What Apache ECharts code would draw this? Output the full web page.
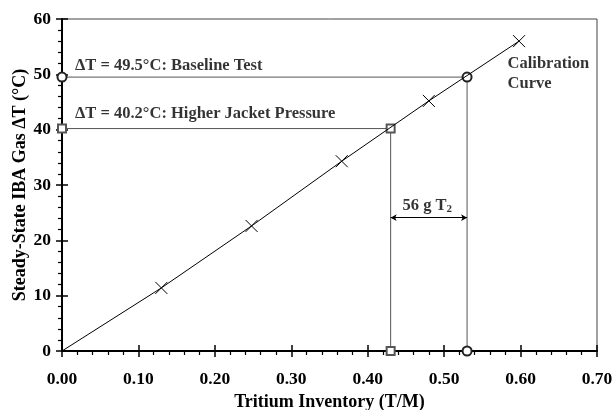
<!DOCTYPE html>
<html>
<head>
<meta charset="utf-8">
<script src="https://cdn.jsdelivr.net/npm/echarts@6/dist/echarts.min.js"></script>
<style>
  html, body { margin: 0; padding: 0; background: #fff; }
  #chart { width: 615px; height: 410px; }
</style>
</head>
<body>
<div id="chart"></div>
<script>
// calibration curve (tritium inventory vs steady-state delta T)
var calInventory = [0, 0.13, 0.248, 0.366, 0.48, 0.598];
var calDeltaT    = [0, 11.4, 22.6, 34.3, 45.2, 56.0];
// baseline test: delta T = 49.5 -> 0.53 T/M
var baseInventory = [0, 0.53, 0.53];
var baseDeltaT    = [49.5, 49.5, 0];
// higher jacket pressure: delta T = 40.2 -> 0.43 T/M
var jacketInventory = [0, 0.43, 0.43];
var jacketDeltaT    = [40.2, 40.2, 0];

function pairs(xs, ys) {
    return xs.map(function (x, i) { return [x, ys[i]]; });
}

var serif = '"Liberation Serif", "DejaVu Serif", serif';
var crossSym = 'path://M0,0L10,10M10,0L0,10';

var myChart = echarts.init(document.getElementById('chart'));

var calData = pairs(calInventory, calDeltaT).map(function (p, i) {
    return i === 0 ? { value: p, symbol: 'none' } : { value: p };
});

var axisText = { fontFamily: serif, fontWeight: 'bold', fontSize: 17.5, color: '#000' };

option = {
    animation: false,
    backgroundColor: '#fff',
    grid: {
        left: 62, right: 18, top: 19, bottom: 59,
        containLabel: false, outerBoundsMode: 'none',
        show: true, borderColor: '#444', borderWidth: 1
    },
    xAxis: [
        {
            type: 'value', min: 0, max: 0.7, interval: 0.1,
            name: 'Tritium Inventory (T/M)', nameLocation: 'middle', nameGap: 42,
            nameTextStyle: { fontFamily: serif, fontWeight: 'bold', fontSize: 18, color: '#000' },
            axisLine: { show: true, lineStyle: { color: '#000', width: 2 } },
            axisTick: { show: true, inside: false, length: 6, lineStyle: { color: '#000', width: 1.5 } },
            minorTick: { show: true, splitNumber: 5, length: 4, lineStyle: { color: '#000', width: 1.2 } },
            splitLine: { show: false },
            axisLabel: Object.assign({ margin: 19, formatter: function (v) { return v.toFixed(2); } }, axisText)
        },
        {
            type: 'value', min: 0, max: 0.7, interval: 0.1, position: 'bottom',
            axisLine: { show: false },
            axisTick: { show: true, inside: true, length: 6, lineStyle: { color: '#000', width: 1.5 } },
            splitLine: { show: false },
            axisLabel: { show: false }
        }
    ],
    yAxis: [
        {
            type: 'value', min: 0, max: 60, interval: 10,
            name: 'Steady-State IBA Gas ΔT (°C)', nameLocation: 'middle', nameGap: 33,
            nameMoveOverlap: false,
            nameTextStyle: { fontFamily: serif, fontWeight: 'bold', fontSize: 18, color: '#000' },
            axisLine: { show: true, lineStyle: { color: '#000', width: 2 } },
            axisTick: { show: true, inside: false, length: 6, lineStyle: { color: '#000', width: 1.5 } },
            minorTick: { show: true, splitNumber: 5, length: 4, lineStyle: { color: '#000', width: 1.2 } },
            splitLine: { show: false },
            axisLabel: Object.assign({ margin: 11 }, axisText)
        },
        {
            type: 'value', min: 0, max: 60, interval: 10, position: 'left',
            axisLine: { show: false },
            axisTick: { show: true, inside: true, length: 6, lineStyle: { color: '#000', width: 1.5 } },
            splitLine: { show: false },
            axisLabel: { show: false }
        }
    ],
    series: [
        {
            name: 'Calibration Curve',
            type: 'line',
            data: calData,
            symbol: crossSym,
            symbolSize: 12,
            showAllSymbol: true,
            itemStyle: { color: '#000', borderColor: '#000', borderWidth: 1 },
            lineStyle: { color: '#000', width: 1 },
            z: 5
        },
        {
            name: 'Baseline',
            type: 'line',
            data: pairs(baseInventory, baseDeltaT),
            symbol: 'emptyCircle',
            symbolSize: 9,
            showAllSymbol: true,
            clip: false,
            itemStyle: { color: '#222', borderColor: '#222', borderWidth: 1 },
            lineStyle: { color: '#555', width: 1 },
            z: 4
        },
        {
            name: 'Jacket',
            type: 'line',
            data: pairs(jacketInventory, jacketDeltaT),
            symbol: 'emptyRect',
            symbolSize: 8,
            showAllSymbol: true,
            clip: false,
            itemStyle: { color: '#555', borderColor: '#555', borderWidth: 1 },
            lineStyle: { color: '#555', width: 1 },
            z: 4,
            markLine: {
                silent: true,
                symbol: ['arrow', 'arrow'],
                symbolSize: [5, 6],
                lineStyle: { color: '#000', width: 1, type: 'solid' },
                label: { show: false },
                data: [[{ coord: [0.43, 24.1] }, { coord: [0.53, 24.1] }]]
            }
        },
        {
            name: 'notes',
            type: 'scatter',
            symbolSize: 0,
            silent: true,
            z: 6,
            label: {
                show: true, position: 'right', distance: 0,
                fontFamily: serif, fontWeight: 'bold', fontSize: 16.5, color: '#000'
            },
            data: [
                { value: [0.017, 51.6], label: { formatter: 'ΔT = 49.5°C: Baseline Test' } },
                { value: [0.017, 42.9], label: { formatter: 'ΔT = 40.2°C: Higher Jacket Pressure' } },
                { value: [0.583, 50.1], label: { formatter: 'Calibration\nCurve', lineHeight: 20 } },
                { value: [0.478, 26.3], label: {
                    position: 'inside',
                    formatter: '{a|56 g T}{b|2}',
                    rich: {
                        a: { fontFamily: serif, fontWeight: 'bold', fontSize: 16.5, color: '#000', lineHeight: 18, verticalAlign: 'bottom' },
                        b: { fontFamily: serif, fontWeight: 'bold', fontSize: 11, color: '#000', lineHeight: 14, verticalAlign: 'bottom' }
                    }
                } }
            ]
        }
    ]
};

myChart.setOption(option);
window.addEventListener('resize', function () { myChart.resize(); });
</script>
</body>
</html>
